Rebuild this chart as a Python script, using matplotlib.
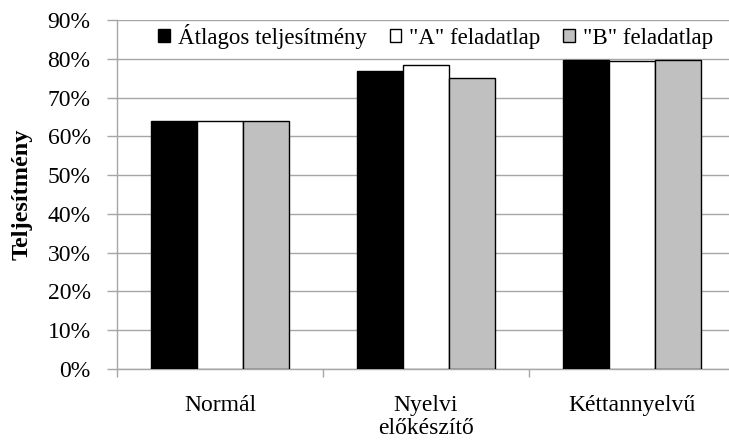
import matplotlib.pyplot as plt
import numpy as np
from matplotlib.ticker import FuncFormatter

categories = ["Normál", "Nyelvi\nelőkészítő", "Kéttannyelvű"]
series_names = ["Átlagos teljesítmény", '"A" feladatlap', '"B" feladatlap']
atlagos = [64.0, 76.8, 79.6]
feladat_a = [64.0, 78.4, 79.3]
feladat_b = [64.0, 75.0, 79.8]

plt.rcParams["font.family"] = ["Liberation Serif", "DejaVu Serif"]
grid_col = "#a6a6a6"

fig = plt.figure(figsize=(7.29, 4.41), dpi=100)
ax = fig.add_axes([117 / 729, 1 - 369 / 441, 618 / 729, 349 / 441])

x = np.arange(len(categories))
w = 0.222
series = [atlagos, feladat_a, feladat_b]
faces = ["black", "white", "#c0c0c0"]
for i, (vals, fc, name) in enumerate(zip(series, faces, series_names)):
    ax.bar(x + (i - 1) * w, vals, width=w, color=fc, edgecolor="black",
           linewidth=1.0, label=name, zorder=3)

ax.set_ylim(0, 90)
ax.set_xlim(-0.5, 2.5)
ax.set_yticks(np.arange(0, 91, 10))
ax.yaxis.set_major_formatter(FuncFormatter(lambda v, p: f"{v:.0f}%"))
ax.grid(axis="y", color=grid_col, linewidth=1.0, zorder=0)

ax.set_xticks(x)
ax.set_xticklabels(categories, linespacing=1.12)
ax.set_xticks([-0.5, 0.5, 1.5, 2.5], minor=True)
ax.tick_params(axis="x", which="major", length=0, pad=19, labelsize=17)
ax.tick_params(axis="x", which="minor", length=6, color=grid_col, width=1)
ax.tick_params(axis="y", length=7, color=grid_col, width=1, labelsize=17, pad=12)

for s in ["top", "right"]:
    ax.spines[s].set_visible(False)
for s in ["left", "bottom"]:
    ax.spines[s].set_color(grid_col)
    ax.spines[s].set_linewidth(1.0)

ax.set_ylabel("Teljesítmény", fontsize=17.5, fontweight="bold")
ax.yaxis.set_label_coords(-0.137, 0.5)

ax.legend(loc="upper right", bbox_to_anchor=(0.99, 1.035), ncol=3, frameon=False,
          fontsize=16.5, handlelength=0.5, handleheight=0.5, handletextpad=0.35,
          columnspacing=1.0, borderaxespad=0.3)

fig.savefig("out.png", dpi=100)
